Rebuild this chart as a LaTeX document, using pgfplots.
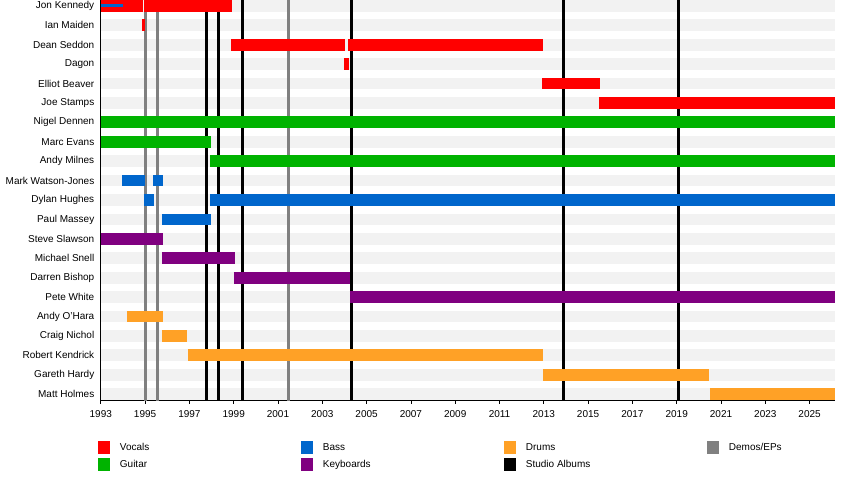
\documentclass[border=0pt]{standalone}
\usepackage{fontspec}
\setmainfont{Liberation Sans}
\usepackage{pgfplots}
\pgfplotsset{compat=1.18}
\definecolor{cVoc}{HTML}{FF0000}
\definecolor{cGui}{HTML}{00B300}
\definecolor{cBas}{HTML}{0066CC}
\definecolor{cKey}{HTML}{800080}
\definecolor{cDru}{HTML}{FFA126}
\definecolor{cDem}{HTML}{808080}
\definecolor{cStr}{HTML}{F2F2F2}
\pgfplotsset{
  seg/.style={line width=11.8pt, line cap=butt, forget plot},
  vl/.style={line width=2.8pt, line cap=butt, forget plot},
  sq/.style={legend image code/.code={\path[##1, draw=none] (0pt,-6.5pt) rectangle (12pt,6.5pt);}},
}
\newcommand{\lt}[1]{\makebox[191pt][l]{\hspace{10pt}#1}}
\begin{document}
\begin{tikzpicture}
\useasboundingbox (-100.8pt,-88.3pt) rectangle (749.2pt,400.7pt);
\begin{axis}[
  scale only axis, width=734.5pt, height=400.7pt,
  at={(0pt,0pt)}, anchor=south west,
  xmin=1993, xmax=2026.16, ymin=-0.335, ymax=20.30,
  axis x line*=bottom, axis y line*=left,
  axis line style={line width=1pt,-},
  xtick={1993,1995,...,2025}, minor x tick num=1,
  tick align=outside, major tick length=3pt, minor tick length=3pt,
  xtick style={black, line width=0.8pt},
  ytick={0,...,20}, ytick style={draw=none},
  yticklabels={Matt Holmes, Gareth Hardy, Robert Kendrick, Craig Nichol, Andy O'Hara, Pete White, Darren Bishop, Michael Snell, Steve Slawson, Paul Massey, Dylan Hughes, Mark Watson-Jones, Andy Milnes, Marc Evans, Nigel Dennen, Joe Stamps, Elliot Beaver, Dagon, Dean Seddon, Ian Maiden, Jon Kennedy},
  ticklabel style={font=\fontsize{10}{12}\selectfont},
  xticklabel style={yshift=-3pt},
  /pgf/number format/assume math mode=true,
  /pgf/number format/1000 sep={},
  legend columns=4,
  legend style={at={(axis description cs:-0.0042,-0.1006)}, anchor=north west,
    draw=none, fill=none, inner sep=0pt, row sep=4pt,
    font=\fontsize{10}{12}\selectfont,
    nodes={inner xsep=0pt, inner ysep=0pt}},
  legend cell align=left,
]
% background stripes
\pgfplotsinvokeforeach{0,...,20}{\addplot[seg, cStr] coordinates {(1993,#1) (2026.16,#1)};}
% release lines
\addplot[vl, cDem] coordinates {(1995.00,-0.335) (1995.00,20.30)};
\addplot[vl, cDem] coordinates {(1995.56,-0.335) (1995.56,20.30)};
\addplot[vl, cDem] coordinates {(2001.46,-0.335) (2001.46,20.30)};
\addplot[vl, black] coordinates {(1997.78,-0.335) (1997.78,20.30)};
\addplot[vl, black] coordinates {(1998.30,-0.335) (1998.30,20.30)};
\addplot[vl, black] coordinates {(1999.39,-0.335) (1999.39,20.30)};
\addplot[vl, black] coordinates {(2004.33,-0.335) (2004.33,20.30)};
\addplot[vl, black] coordinates {(2013.88,-0.335) (2013.88,20.30)};
\addplot[vl, black] coordinates {(2019.07,-0.335) (2019.07,20.30)};
% Jon Kennedy (20)
\addplot[seg, cVoc] coordinates {(1993,20) (1994.89,20)};
\addplot[seg, cVoc] coordinates {(1994.94,20) (1998.91,20)};
\addplot[line width=3pt, line cap=butt, cBas, forget plot] coordinates {(1993,20) (1994.02,20)};
% Ian Maiden (19)
\addplot[seg, cVoc] coordinates {(1994.86,19) (1995.00,19)};
% Dean Seddon (18)
\addplot[seg, cVoc] coordinates {(1998.88,18) (2004.03,18)};
\addplot[seg, cVoc] coordinates {(2004.17,18) (2012.95,18)};
% Dagon (17)
\addplot[seg, cVoc] coordinates {(2003.98,17) (2004.20,17)};
% Elliot Beaver (16)
\addplot[seg, cVoc] coordinates {(2012.92,16) (2015.54,16)};
% Joe Stamps (15)
\addplot[seg, cVoc] coordinates {(2015.49,15) (2026.16,15)};
% Nigel Dennen (14)
\addplot[seg, cGui] coordinates {(1993,14) (2026.16,14)};
% Marc Evans (13)
\addplot[seg, cGui] coordinates {(1993,13) (1997.98,13)};
% Andy Milnes (12)
\addplot[seg, cGui] coordinates {(1997.93,12) (2026.16,12)};
% Mark Watson-Jones (11)
\addplot[seg, cBas] coordinates {(1993.96,11) (1995.00,11)};
\addplot[seg, cBas] coordinates {(1995.36,11) (1995.81,11)};
% Dylan Hughes (10)
\addplot[seg, cBas] coordinates {(1994.95,10) (1995.40,10)};
\addplot[seg, cBas] coordinates {(1997.93,10) (2026.16,10)};
% Paul Massey (9)
\addplot[seg, cBas] coordinates {(1995.76,9) (1997.98,9)};
% Steve Slawson (8)
\addplot[seg, cKey] coordinates {(1993,8) (1995.81,8)};
% Michael Snell (7)
\addplot[seg, cKey] coordinates {(1995.76,7) (1999.06,7)};
% Darren Bishop (6)
\addplot[seg, cKey] coordinates {(1999.01,6) (2004.25,6)};
% Pete White (5)
\addplot[seg, cKey] coordinates {(2004.25,5) (2026.16,5)};
% Andy O'Hara (4)
\addplot[seg, cDru] coordinates {(1994.18,4) (1995.81,4)};
% Craig Nichol (3)
\addplot[seg, cDru] coordinates {(1995.76,3) (1996.89,3)};
% Robert Kendrick (2)
\addplot[seg, cDru] coordinates {(1996.94,2) (2012.96,2)};
% Gareth Hardy (1)
\addplot[seg, cDru] coordinates {(2012.96,1) (2020.46,1)};
% Matt Holmes (0)
\addplot[seg, cDru] coordinates {(2020.50,0) (2026.16,0)};
% legend
\addlegendimage{sq, fill=cVoc}\addlegendentry{\lt{Vocals}}
\addlegendimage{sq, fill=cBas}\addlegendentry{\lt{Bass}}
\addlegendimage{sq, fill=cDru}\addlegendentry{\lt{Drums}}
\addlegendimage{sq, fill=cDem}\addlegendentry{\lt{Demos/EPs}}
\addlegendimage{sq, fill=cGui}\addlegendentry{\lt{Guitar}}
\addlegendimage{sq, fill=cKey}\addlegendentry{\lt{Keyboards}}
\addlegendimage{sq, fill=black}\addlegendentry{\lt{Studio Albums}}
\end{axis}
\end{tikzpicture}
\end{document}
